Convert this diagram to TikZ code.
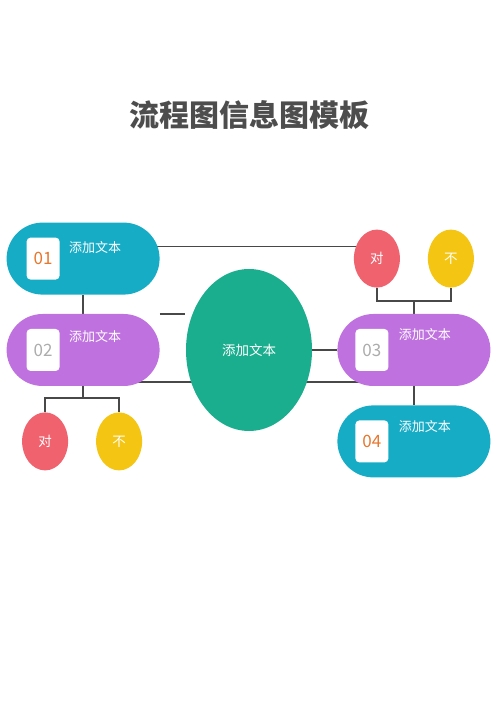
\documentclass[tikz,border=0pt]{standalone}
\usepackage{fontspec}
\setmainfont{Noto Sans CJK SC}
\usepackage{xcolor}
\definecolor{pillblue}{RGB}{23,172,198}
\definecolor{pillpurple}{RGB}{191,114,223}
\definecolor{hubgreen}{RGB}{27,174,142}
\definecolor{okred}{RGB}{239,98,110}
\definecolor{noyellow}{RGB}{245,197,20}
\definecolor{numorange}{RGB}{232,119,46}
\definecolor{numgray}{RGB}{172,172,172}
\definecolor{titlegray}{RGB}{77,77,77}
\definecolor{linegray}{RGB}{72,72,72}
\usetikzlibrary{shapes,positioning,backgrounds}
\tikzset{
	pill/.style={
		rectangle,
		rounded corners=36pt,
		minimum width=153pt,
		minimum height=72pt,
		inner sep=0pt,
	},
	tag/.style={
		rectangle,
		rounded corners=4pt,
		fill=white,
		minimum width=33pt,
		minimum height=42pt,
		inner sep=0pt,
		font=\fontsize{17}{17}\selectfont,
	},
	caption/.style={
		text=white,
		font=\fontsize{13}{13}\selectfont,
		inner sep=0pt,
	},
	hub/.style={
		ellipse,
		fill=hubgreen,
		minimum width=126pt,
		minimum height=162pt,
		inner sep=0pt,
		text=white,
		font=\fontsize{13.5}{13.5}\selectfont,
	},
	choice/.style={
		ellipse,
		minimum width=46pt,
		minimum height=58pt,
		inner sep=0pt,
		text=white,
		font=\fontsize{13.5}{13.5}\selectfont,
	},
	link/.style={
		draw=linegray,
		line width=1.5pt,
	},
}
\begin{document}
\begin{tikzpicture}[x=1pt,y=1pt,node distance=19pt]
	\useasboundingbox (0,0) rectangle (500,707);
	\node [
      text=titlegray,
      font=\fontsize{30}{30}\selectfont\bfseries
    ] (title) at (249,592) {流程图信息图模板};
	\node [hub] (hub) at (249,357) {添加文本};
	\node [
      pill,
      fill=pillpurple,
      left=26pt of hub
    ] (s2) {};
	\node [
      pill,
      fill=pillblue,
      above=of s2
    ] (s1) {};
	\node [
      pill,
      fill=pillpurple,
      right=25pt of hub
    ] (s3) {};
	\node [
      pill,
      fill=pillblue,
      below=of s3
    ] (s4) {};
	\node [tag,text=numorange,right=20pt of s1.west] (tag1) {01};
	\node [tag,text=numgray,right=20pt of s2.west] (tag2) {02};
	\node [tag,text=numgray,right=18pt of s3.west] (tag3) {03};
	\node [tag,text=numorange,right=18pt of s4.west] (tag4) {04};
	\node [caption,right=9pt of tag1,yshift=11pt] (cap1) {添加文本};
	\node [caption,right=9pt of tag2,yshift=13pt] (cap2) {添加文本};
	\node [caption,right=10pt of tag3,yshift=15pt] (cap3) {添加文本};
	\node [caption,right=10pt of tag4,yshift=15pt] (cap4) {添加文本};
	\node [
      choice,
      fill=okred,
      below=26pt of s2,
      xshift=-38pt
    ] (ok1) {对};
	\node [
      choice,
      fill=noyellow,
      below=26pt of s2,
      xshift=36pt
    ] (no1) {不};
	\node [
      choice,
      fill=okred,
      above=26pt of s3,
      xshift=-37pt
    ] (ok2) {对};
	\node [
      choice,
      fill=noyellow,
      above=26pt of s3,
      xshift=37pt
    ] (no2) {不};

	\coordinate (fork1) at ([yshift=-12pt]s2.south);
	\coordinate (fork2) at ([yshift=13pt]s3.north);
	\coordinate (stub) at ([xshift=25pt]s2.north east);

	\begin{scope}[on background layer]
    \draw[link] (s1) -- (s2);
    \draw[link] (s3) -- (s4);
    \draw[link] (hub) -- (s3);
    \draw[link] ([yshift=-32pt]hub.center) -- ([yshift=-32pt]s2.center);
    \draw[link] ([yshift=-32pt]hub.center) -- ([yshift=-32pt]s3.center);
    \draw[link] ([yshift=12pt]s1.center) -- ([yshift=12pt]s1.center -| ok2.center);
    \draw[link] (s2.north east) -- (stub);
    \draw[link] (s2) -- (fork1) -| (ok1);
    \draw[link] (fork1) -| (no1);
    \draw[link] (s3) -- (fork2) -| (ok2);
    \draw[link] (fork2) -| (no2);
	\end{scope}
\end{tikzpicture}
\end{document}
